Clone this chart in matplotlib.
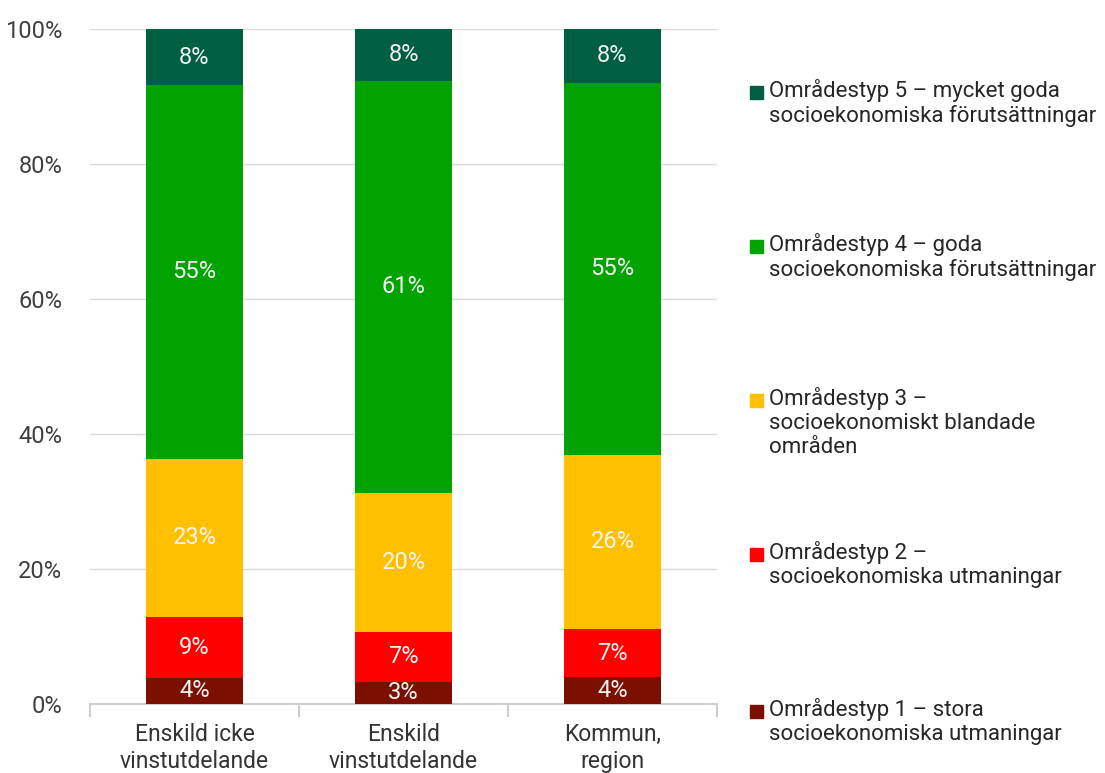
import matplotlib
matplotlib.use("Agg")
import matplotlib.pyplot as plt
import numpy as np
from matplotlib.patches import Rectangle

plt.rcParams['font.family'] = ['Roboto', 'DejaVu Sans']

categories = ["Enskild icke\nvinstutdelande", "Enskild\nvinstutdelande", "Kommun,\nregion"]
typ1 = [3.9, 3.3, 4.0]
typ2 = [9.0, 7.4, 7.1]
typ3 = [23.4, 20.6, 25.8]
typ4 = [55.4, 61.0, 55.1]
typ5 = [8.3, 7.7, 8.0]
labels1 = ["4%", "3%", "4%"]
labels2 = ["9%", "7%", "7%"]
labels3 = ["23%", "20%", "26%"]
labels4 = ["55%", "61%", "55%"]
labels5 = ["8%", "8%", "8%"]

series = [typ1, typ2, typ3, typ4, typ5]
series_labels = [labels1, labels2, labels3, labels4, labels5]
colors = ["#7B1000", "#FF0000", "#FFC000", "#00A300", "#005E43"]
legend_names = [
    "Områdestyp 1 – stora\nsocioekonomiska utmaningar",
    "Områdestyp 2 –\nsocioekonomiska utmaningar",
    "Områdestyp 3 –\nsocioekonomiskt blandade\nområden",
    "Områdestyp 4 – goda\nsocioekonomiska förutsättningar",
    "Områdestyp 5 – mycket goda\nsocioekonomiska förutsättningar",
]

fig = plt.figure(figsize=(11.05, 7.73), dpi=100)
ax = fig.add_axes([90/1105, 1 - 704/773, (717-90)/1105, (704-29)/773])

x = np.arange(len(categories))
bottom = np.zeros(len(categories))
for vals, labs, col in zip(series, series_labels, colors):
    ax.bar(x, vals, width=0.465, bottom=bottom, color=col, zorder=3)
    for xi, b, v, l in zip(x, bottom, vals, labs):
        ax.text(xi, b + v / 2, l, ha="center", va="center", color="#F2F2F2",
                fontsize=17, zorder=4)
    bottom += np.array(vals)

ax.set_xlim(-0.5, 2.5)
ax.set_ylim(0, 100)
ax.set_yticks(np.arange(0, 101, 20))
ax.set_yticklabels([f"{v}%" for v in range(0, 101, 20)], fontsize=17, color="#404040")
ax.yaxis.grid(True, color="#D9D9D9", linewidth=1, zorder=0)
ax.tick_params(axis="y", length=0, pad=20)
for s in ["top", "right", "left"]:
    ax.spines[s].set_visible(False)
ax.spines["bottom"].set_color("#C8D0D0")
ax.spines["bottom"].set_linewidth(1.5)

ax.set_xticks(x)
ax.set_xticklabels(categories, fontsize=16.5, color="#333333", linespacing=1.2)
ax.tick_params(axis="x", length=0, pad=14)
ax.set_xticks([-0.5, 0.5, 1.5, 2.5], minor=True)
ax.tick_params(axis="x", which="minor", length=9, width=1.5, color="#C8D0D0")

# legend, drawn manually
ys = [712, 555, 401, 247, 93]
for name, col, yp in zip(legend_names, colors, ys):
    fig.patches.append(Rectangle((750/1105, 1 - (yp + 6)/773), 13/1105, 13/773,
                                 transform=fig.transFigure, color=col))
    fig.text(769/1105, 1 - (yp - 14)/773, name, fontsize=16, color="#262626",
             va="top", ha="left", linespacing=1.2)

fig.savefig("out.png", dpi=100)
